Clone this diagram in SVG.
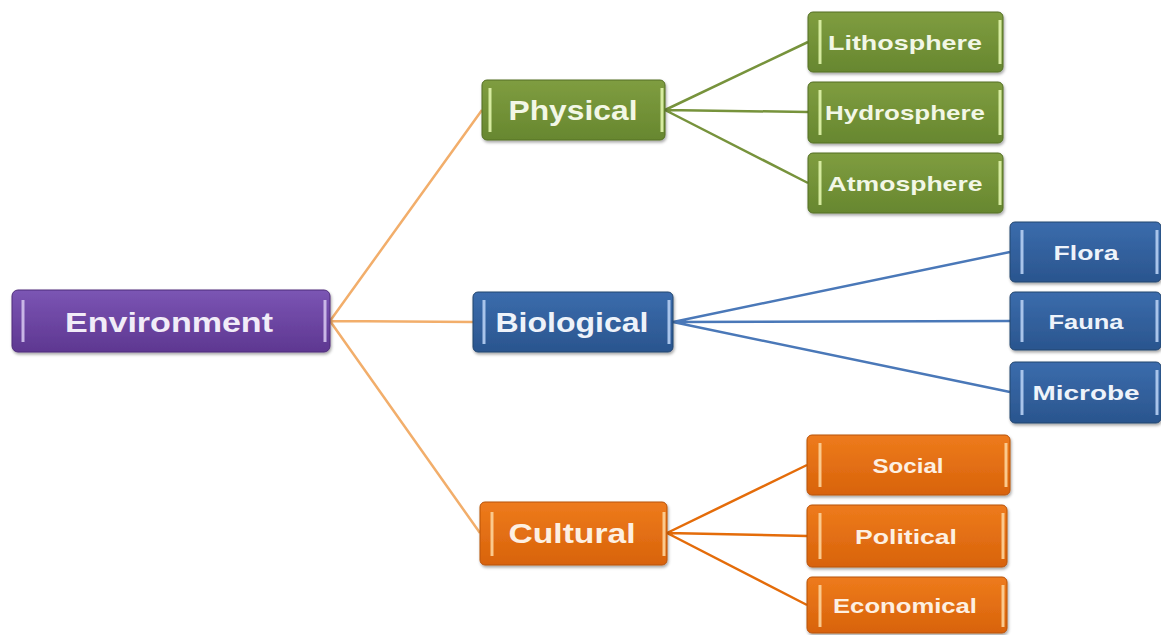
<svg xmlns="http://www.w3.org/2000/svg" width="1161" height="635" viewBox="0 0 1161 635">
  <defs>
    <linearGradient id="gPurple" x1="0" y1="0" x2="0" y2="1">
      <stop offset="0" stop-color="#7B55B4"/>
      <stop offset="1" stop-color="#5E3791"/>
    </linearGradient>
    <linearGradient id="gGreen" x1="0" y1="0" x2="0" y2="1">
      <stop offset="0" stop-color="#7F9D40"/>
      <stop offset="1" stop-color="#67872F"/>
    </linearGradient>
    <linearGradient id="gBlue" x1="0" y1="0" x2="0" y2="1">
      <stop offset="0" stop-color="#3B6CAC"/>
      <stop offset="1" stop-color="#2A558E"/>
    </linearGradient>
    <linearGradient id="gOrange" x1="0" y1="0" x2="0" y2="1">
      <stop offset="0" stop-color="#EE7B1C"/>
      <stop offset="1" stop-color="#D8630B"/>
    </linearGradient>
    <filter id="shadow" x="-10%" y="-20%" width="120%" height="150%">
      <feDropShadow dx="1" dy="2" stdDeviation="1.5" flood-color="#000" flood-opacity="0.35"/>
    </filter>
  </defs>
  <style>
    .box { filter: url(#shadow); }
    .purple { fill: url(#gPurple); stroke: #4E2D7A; stroke-width: 1; }
    .green { fill: url(#gGreen); stroke: #556F25; stroke-width: 1; }
    .blue { fill: url(#gBlue); stroke: #22466F; stroke-width: 1; }
    .orange { fill: url(#gOrange); stroke: #B85208; stroke-width: 1; }
    .bar-p { stroke: #C9B6E6; stroke-width: 3; }
    .bar-g { stroke: #D6EBA0; stroke-width: 3; }
    .bar-b { stroke: #A9C4EA; stroke-width: 3; }
    .bar-o { stroke: #FBC98C; stroke-width: 3; }
    .lbl { font-family: "Liberation Sans", Arial, sans-serif; font-weight: bold; text-anchor: middle; dominant-baseline: central; }
    .main { font-size: 28px; }
    .sub { font-size: 21px; }
    .t-p { fill: #F1ECF8; }
    .t-g { fill: #F2F7E6; }
    .t-b { fill: #EEF3FA; }
    .t-o { fill: #FDF0E2; }
    .c-env { stroke: #F2AE6B; stroke-width: 2.5; fill: none; }
    .c-green { stroke: #77933C; stroke-width: 2.5; fill: none; }
    .c-blue { stroke: #4A78B8; stroke-width: 2.5; fill: none; }
    .c-orange { stroke: #E46C0A; stroke-width: 2.5; fill: none; }
  </style>
  <rect width="1161" height="635" fill="#FFFFFF"/>

  <!-- connectors -->
  <g id="connectors">
    <path class="c-env" d="M330,321 L482,110 M330,321 L473,322 M330,321 L480,533"/>
    <path class="c-green" d="M665,110 L808,42 M665,110 L808,112 M665,110 L808,183"/>
    <path class="c-blue" d="M673,322 L1010,252 M673,322 L1010,321 M673,322 L1010,392"/>
    <path class="c-orange" d="M667,533 L807,465 M667,533 L807,536 M667,533 L807,605"/>
  </g>

  <!-- root -->
  <g id="environment">
    <rect class="box purple" x="12" y="290" width="318" height="62" rx="6"/>
    <line class="bar-p" x1="23" y1="300" x2="23" y2="342"/>
    <line class="bar-p" x1="325" y1="300" x2="325" y2="342"/>
    <text class="lbl main t-p" x="169" y="322" textLength="208" lengthAdjust="spacingAndGlyphs">Environment</text>
  </g>

  <!-- second level -->
  <g id="physical">
    <rect class="box green" x="482" y="80" width="183" height="60" rx="5"/>
    <line class="bar-g" x1="490" y1="88" x2="490" y2="132"/>
    <line class="bar-g" x1="662" y1="88" x2="662" y2="132"/>
    <text class="lbl main t-g" x="573" y="110" textLength="129" lengthAdjust="spacingAndGlyphs">Physical</text>
  </g>
  <g id="biological">
    <rect class="box blue" x="473" y="292" width="200" height="60" rx="5"/>
    <line class="bar-b" x1="484" y1="300" x2="484" y2="344"/>
    <line class="bar-b" x1="669" y1="300" x2="669" y2="344"/>
    <text class="lbl main t-b" x="572" y="322" textLength="153" lengthAdjust="spacingAndGlyphs">Biological</text>
  </g>
  <g id="cultural">
    <rect class="box orange" x="480" y="502" width="187" height="63" rx="5"/>
    <line class="bar-o" x1="492" y1="512" x2="492" y2="556"/>
    <line class="bar-o" x1="664" y1="512" x2="664" y2="556"/>
    <text class="lbl main t-o" x="572" y="533" textLength="127" lengthAdjust="spacingAndGlyphs">Cultural</text>
  </g>

  <!-- physical children -->
  <g id="lithosphere">
    <rect class="box green" x="808" y="12" width="195" height="60" rx="5"/>
    <line class="bar-g" x1="820" y1="20" x2="820" y2="64"/>
    <line class="bar-g" x1="1000" y1="20" x2="1000" y2="64"/>
    <text class="lbl sub t-g" x="905" y="42" textLength="154" lengthAdjust="spacingAndGlyphs">Lithosphere</text>
  </g>
  <g id="hydrosphere">
    <rect class="box green" x="808" y="82" width="195" height="61" rx="5"/>
    <line class="bar-g" x1="820" y1="90" x2="820" y2="135"/>
    <line class="bar-g" x1="1000" y1="90" x2="1000" y2="135"/>
    <text class="lbl sub t-g" x="905" y="112" textLength="160" lengthAdjust="spacingAndGlyphs">Hydrosphere</text>
  </g>
  <g id="atmosphere">
    <rect class="box green" x="808" y="153" width="195" height="60" rx="5"/>
    <line class="bar-g" x1="820" y1="161" x2="820" y2="205"/>
    <line class="bar-g" x1="1000" y1="161" x2="1000" y2="205"/>
    <text class="lbl sub t-g" x="905" y="183" textLength="155" lengthAdjust="spacingAndGlyphs">Atmosphere</text>
  </g>

  <!-- biological children -->
  <g id="flora">
    <rect class="box blue" x="1010" y="222" width="151" height="60" rx="5"/>
    <line class="bar-b" x1="1022" y1="230" x2="1022" y2="274"/>
    <line class="bar-b" x1="1157" y1="230" x2="1157" y2="274"/>
    <text class="lbl sub t-b" x="1086" y="252" textLength="65" lengthAdjust="spacingAndGlyphs">Flora</text>
  </g>
  <g id="fauna">
    <rect class="box blue" x="1010" y="292" width="151" height="58" rx="5"/>
    <line class="bar-b" x1="1022" y1="300" x2="1022" y2="342"/>
    <line class="bar-b" x1="1157" y1="300" x2="1157" y2="342"/>
    <text class="lbl sub t-b" x="1086" y="321" textLength="75" lengthAdjust="spacingAndGlyphs">Fauna</text>
  </g>
  <g id="microbe">
    <rect class="box blue" x="1010" y="362" width="151" height="61" rx="5"/>
    <line class="bar-b" x1="1022" y1="370" x2="1022" y2="415"/>
    <line class="bar-b" x1="1157" y1="370" x2="1157" y2="415"/>
    <text class="lbl sub t-b" x="1086" y="392" textLength="107" lengthAdjust="spacingAndGlyphs">Microbe</text>
  </g>

  <!-- cultural children -->
  <g id="social">
    <rect class="box orange" x="807" y="435" width="203" height="60" rx="5"/>
    <line class="bar-o" x1="820" y1="443" x2="820" y2="487"/>
    <line class="bar-o" x1="1006" y1="443" x2="1006" y2="487"/>
    <text class="lbl sub t-o" x="908" y="465" textLength="71" lengthAdjust="spacingAndGlyphs">Social</text>
  </g>
  <g id="political">
    <rect class="box orange" x="807" y="505" width="200" height="62" rx="5"/>
    <line class="bar-o" x1="820" y1="513" x2="820" y2="559"/>
    <line class="bar-o" x1="1003" y1="513" x2="1003" y2="559"/>
    <text class="lbl sub t-o" x="906" y="536" textLength="102" lengthAdjust="spacingAndGlyphs">Political</text>
  </g>
  <g id="economical">
    <rect class="box orange" x="807" y="577" width="200" height="56" rx="5"/>
    <line class="bar-o" x1="820" y1="585" x2="820" y2="627"/>
    <line class="bar-o" x1="1003" y1="585" x2="1003" y2="627"/>
    <text class="lbl sub t-o" x="905" y="605" textLength="144" lengthAdjust="spacingAndGlyphs">Economical</text>
  </g>
</svg>
